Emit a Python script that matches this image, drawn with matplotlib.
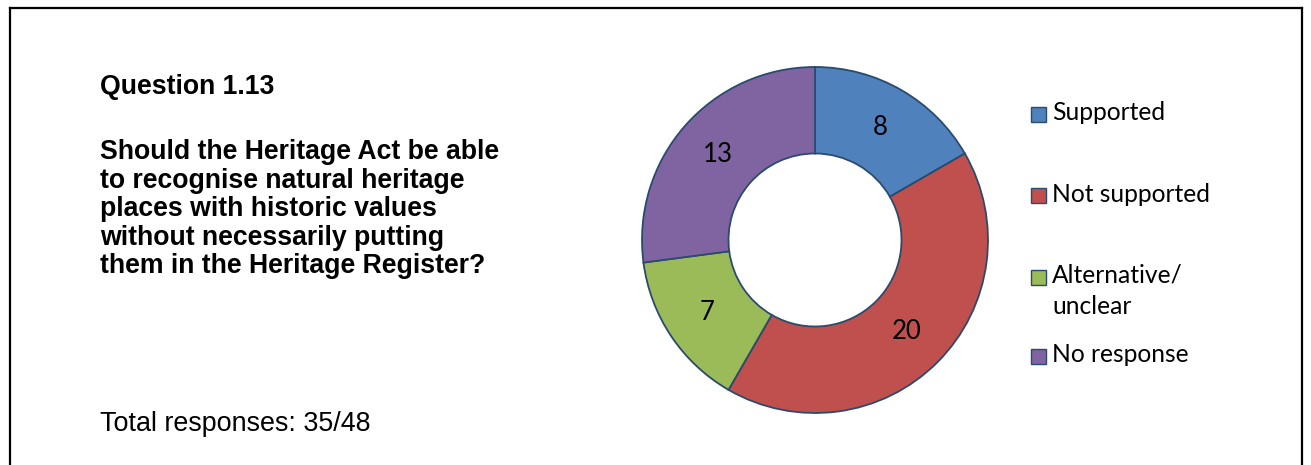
import matplotlib
matplotlib.use("Agg")
from matplotlib import pyplot as plt
from matplotlib.lines import Line2D
from matplotlib.patches import Rectangle

W, H = 1311, 465

categories = ["Supported", "Not supported", "Alternative/\nunclear", "No response"]
counts = [8, 20, 7, 13]
colors = ["#4F81BD", "#C0504D", "#9BBB59", "#8064A2"]

question = "Question 1.13"
question_lines = ["Should the Heritage Act be able",
                  "to recognise natural heritage",
                  "places with historic values",
                  "without necessarily putting",
                  "them in the Heritage Register?"]
total_text = "Total responses: 35/48"

fig = plt.figure(figsize=(W/100, H/100), dpi=100)


def px(x, y):
    # pixel coords (top-left origin) -> figure fraction
    return x/W, 1 - y/H


# frame: top, left and right edges
for xs, ys in [((10, 1302), (8, 8)), ((10, 10), (8, 465)), ((1302, 1302), (8, 465))]:
    fig.add_artist(Line2D([x/W for x in xs], [1 - y/H for y in ys],
                          color="black", lw=1.6, transform=fig.transFigure))

arial = "Liberation Sans"
fig.text(*px(100, 87), question, fontsize=19.2, fontweight="bold",
         family=arial, va="center", ha="left")
for i, line in enumerate(question_lines):
    fig.text(*px(100, 152 + i*28.5), line, fontsize=19.2, fontweight="bold",
             family=arial, va="center", ha="left")
fig.text(*px(100, 424), total_text, fontsize=19.4, family=arial,
         va="center", ha="left")

# donut
cx, cy, r = 815, 240, 173
half = 185
ax = fig.add_axes([(cx - half)/W, (H - cy - half)/H, 2*half/W, 2*half/H])
wedges, texts = ax.pie(counts, colors=colors, startangle=90, counterclock=False,
                       radius=1, labels=[str(c) for c in counts],
                       labeldistance=0.75,
                       wedgeprops=dict(width=0.5, edgecolor="#2A4A6E", linewidth=1.3))
ax.set_xlim(-half/r, half/r)
ax.set_ylim(-half/r, half/r)
ax.axis("off")
for t in texts:
    t.set_fontsize(18.5)
    t.set_family("Lato")
    t.set_ha("center")
    t.set_va("center")

# legend
leg_y = [115, 196, 277, 356]
for name, col, y in zip(categories, colors, leg_y):
    fig.add_artist(Rectangle(px(1031, y + 7.5), 15/W, 15/H, facecolor=col,
                             edgecolor="#2A4A6E", lw=1.0,
                             transform=fig.transFigure))
    for j, part in enumerate(name.split("\n")):
        fig.text(*px(1052, y - 2 + j*31), part, fontsize=17.7, family="Lato",
                 va="center", ha="left")

fig.savefig("out.png", dpi=100)
